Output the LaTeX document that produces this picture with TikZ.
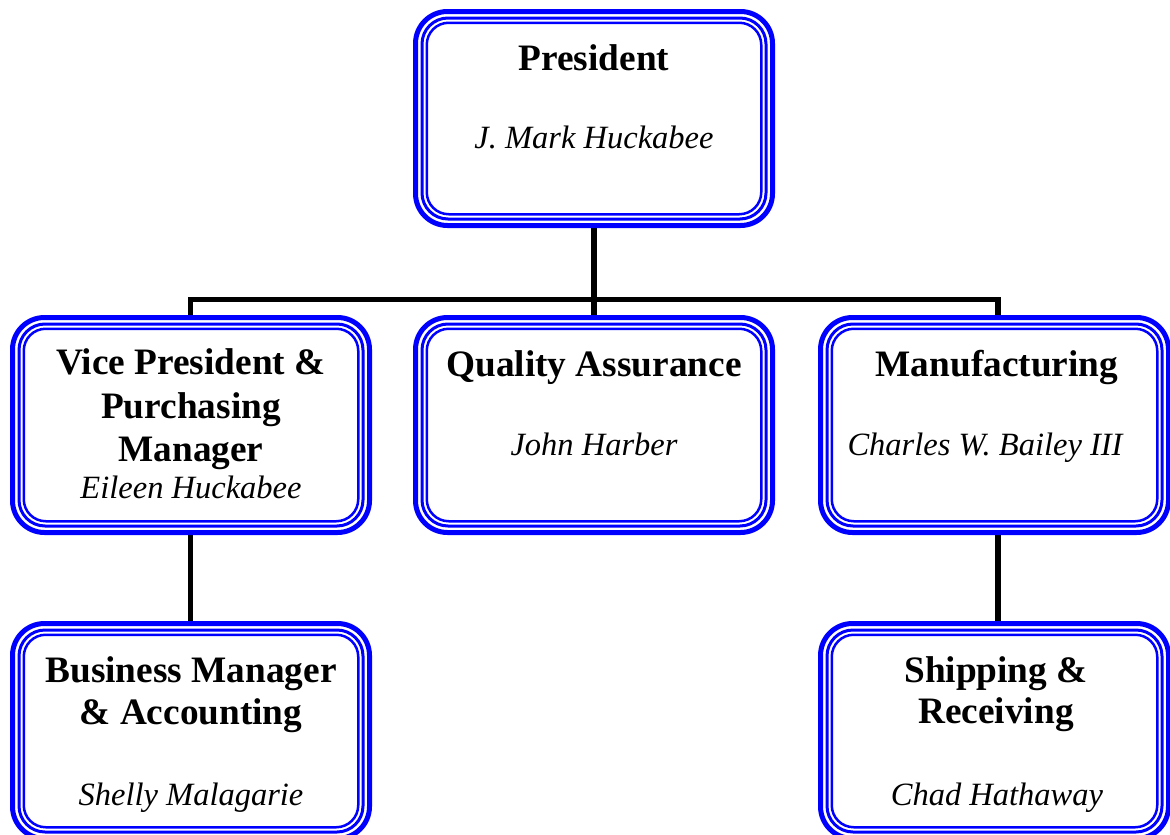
\documentclass[tikz,border=0pt]{standalone}
\usepackage{fontspec}
\setmainfont{Liberation Serif}
\definecolor{frameblue}{RGB}{0,0,255}
\newcommand\tripleframe[1]{%
  \draw[frameblue, line width=5pt, rounded corners=32pt]
    ([shift={(2.5pt,-2.5pt)}]#1.north west) rectangle ([shift={(-2.5pt,2.5pt)}]#1.south east);
  \draw[frameblue, line width=3pt, rounded corners=26pt]
    ([shift={(9pt,-9pt)}]#1.north west) rectangle ([shift={(-9pt,9pt)}]#1.south east);
  \draw[frameblue, line width=2.5pt, rounded corners=22pt]
    ([shift={(13.75pt,-13.75pt)}]#1.north west) rectangle ([shift={(-13.75pt,13.75pt)}]#1.south east);
}
\tikzset{
  orgbox/.style={draw=none, inner sep=0pt, outer sep=0pt, minimum height=220pt},
  ttl/.style={anchor=base, inner sep=0pt, font=\fontsize{37.3}{42}\selectfont\bfseries},
  nm/.style={anchor=base, inner sep=0pt, font=\fontsize{32.5}{38}\selectfont\itshape},
  conn/.style={draw=black, line width=5.5pt}
}
\begin{document}
\begin{tikzpicture}[x=1pt, y=-1pt]
\useasboundingbox (0,0) rectangle (1170,835);
\clip (0,0) rectangle (1170,835);
% boxes
\node[orgbox, minimum width=362pt, minimum height=219pt] (pres) at (594,118.5) {};
\node[orgbox, minimum width=362pt] (vp)   at (191,425) {};
\node[orgbox, minimum width=362pt] (qa)   at (594,425) {};
\node[orgbox, minimum width=353pt] (mfg)  at (994.5,425) {};
\node[orgbox, minimum width=362pt] (bman) at (191,731) {};
\node[orgbox, minimum width=353pt] (ship) at (994.5,731) {};
% connectors
\coordinate (junction) at (594,299.5);
\draw[conn] (pres.south) -- (junction);
\draw[conn] (junction) -- (qa.north);
\draw[conn] ([xshift=-0.5pt]vp.north) |- (junction) -| ([xshift=3.5pt]mfg.north);
\draw[conn] ([xshift=-0.5pt]vp.south) -- ([xshift=-0.5pt]bman.north);
\draw[conn] ([xshift=3.5pt]mfg.south) -- ([xshift=3.5pt]ship.north);
% frames
\tripleframe{pres}
\tripleframe{vp}
\tripleframe{qa}
\tripleframe{mfg}
\tripleframe{bman}
\tripleframe{ship}
% texts
\node[ttl] (t1) at (594,70) {President};
\node[nm]  (n1) at (594,148) {J. Mark Huckabee};
\node[ttl] (t2a) at (191,374) {Vice President \&};
\node[ttl] (t2b) at (191,418) {Purchasing};
\node[ttl] (t2c) at (191,461) {Manager};
\node[nm]  (n2) at (191,498) {Eileen Huckabee};
\node[ttl] (t3) at (594,376) {Quality Assurance};
\node[nm]  (n3) at (594,455) {John Harber};
\node[ttl] (t4) at (997,376) {Manufacturing};
\node[nm]  (n4) at (985,455) {Charles W. Bailey III};
\node[ttl] (t5a) at (191,682) {Business Manager};
\node[ttl] (t5b) at (191,724) {\& Accounting};
\node[nm]  (n5) at (191,805) {Shelly Malagarie};
\node[ttl] (t6a) at (996,682) {Shipping \&};
\node[ttl] (t6b) at (996,723) {Receiving};
\node[nm]  (n6) at (997,805) {Chad Hathaway};
\end{tikzpicture}
\end{document}
